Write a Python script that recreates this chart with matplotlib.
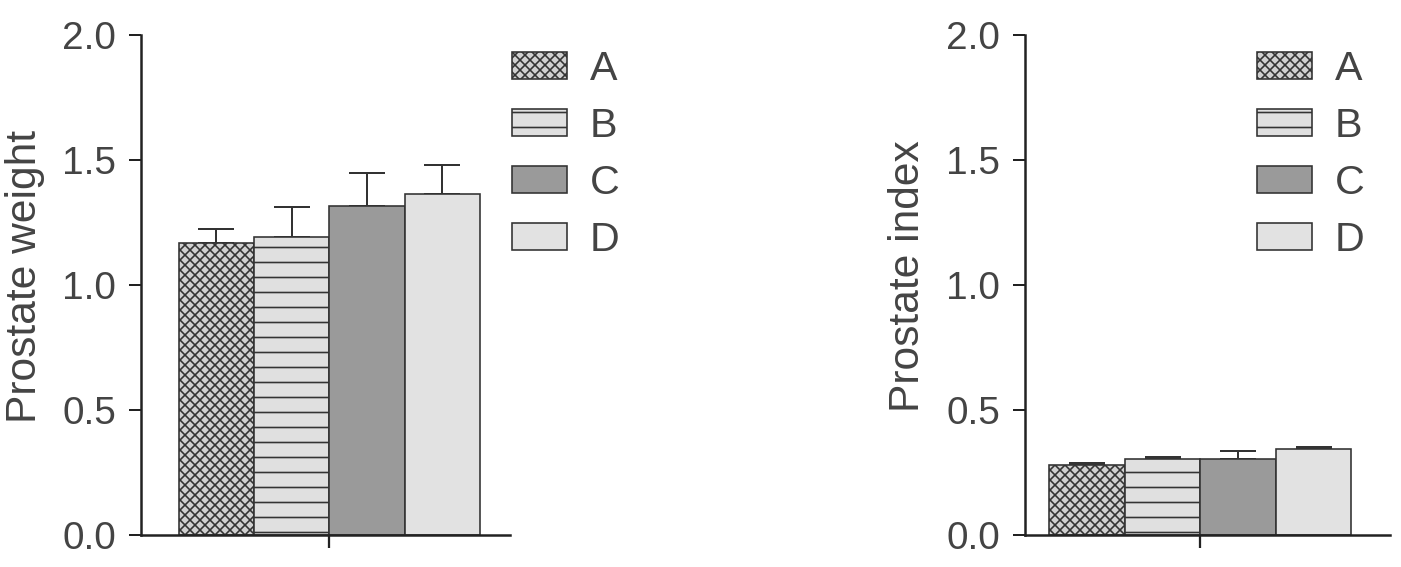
import numpy as np
import matplotlib.pyplot as plt
from matplotlib.patches import Patch

# Données
groupes = ['A', 'B', 'C', 'D']
poids = [1.168, 1.193, 1.317, 1.363]
poids_err = [0.056, 0.120, 0.132, 0.117]
indice = [0.280, 0.304, 0.304, 0.344]
indice_err = [0.007, 0.009, 0.033, 0.007]

couleurs = ['#d0d0d0', '#e0e0e0', '#9a9a9a', '#e2e2e2']
hachures = ['xxx', '-', '', '']
bord = '#333333'

plt.rcParams['font.family'] = ['Liberation Sans', 'DejaVu Sans']
plt.rcParams['hatch.linewidth'] = 1.3
plt.rcParams['hatch.color'] = bord

fig = plt.figure(figsize=(1401 / 90, 567 / 90), dpi=90)
ax1 = fig.add_axes([141 / 1401, 32 / 567, 369 / 1401, 500 / 567])
ax2 = fig.add_axes([1025 / 1401, 32 / 567, 365 / 1401, 500 / 567])


def trace(ax, valeurs, erreurs, ylabel, xlim, leg_xy, label_x):
    x = np.arange(len(groupes))
    ax.errorbar(x, valeurs, yerr=[np.zeros(len(erreurs)), erreurs], fmt='none',
                ecolor=bord, elinewidth=1.6, capsize=14.4, capthick=1.6, zorder=1)
    for i in range(len(groupes)):
        ax.bar(x[i], valeurs[i], width=1.0, color=couleurs[i], edgecolor=bord,
               linewidth=1.3, hatch=hachures[i], zorder=2)
    ax.set_xlim(*xlim)
    ax.set_ylim(0, 2.0)
    ax.set_yticks([0.0, 0.5, 1.0, 1.5, 2.0])
    ax.set_yticklabels(['0.0', '0.5', '1.0', '1.5', '2.0'])
    ax.set_xticks([1.5])
    ax.set_xticklabels([''])
    ax.spines['top'].set_visible(False)
    ax.spines['right'].set_visible(False)
    for s in ['left', 'bottom']:
        ax.spines[s].set_linewidth(2.0)
        ax.spines[s].set_color('#222222')
    ax.tick_params(axis='y', length=10, width=1.6, pad=10, labelsize=31,
                   colors='#222222', labelcolor='#444444')
    ax.tick_params(axis='x', length=10, width=1.8, colors='#222222')
    ax.set_ylabel(ylabel, fontsize=34, color='#444444')
    ax.yaxis.set_label_coords(label_x, 0.518)
    poignees = [Patch(facecolor=couleurs[i], edgecolor=bord, hatch=hachures[i],
                      linewidth=1.3) for i in range(len(groupes))]
    leg = fig.legend(poignees, groupes, loc='upper left', bbox_to_anchor=leg_xy,
                     frameon=False, fontsize=33, handlelength=1.33, handleheight=0.65,
                     labelspacing=0.46, handletextpad=0.56, borderpad=0, borderaxespad=0)
    for t in leg.get_texts():
        t.set_color('#444444')


trace(ax1, poids, poids_err, 'Prostate weight', (-1.0, 3.9),
      (512 / 1401, 1 - 50 / 567), -0.26)
trace(ax2, indice, indice_err, 'Prostate index', (-0.82, 4.01),
      (1257 / 1401, 1 - 50 / 567), -0.265)

plt.savefig('out.png', dpi=90)
